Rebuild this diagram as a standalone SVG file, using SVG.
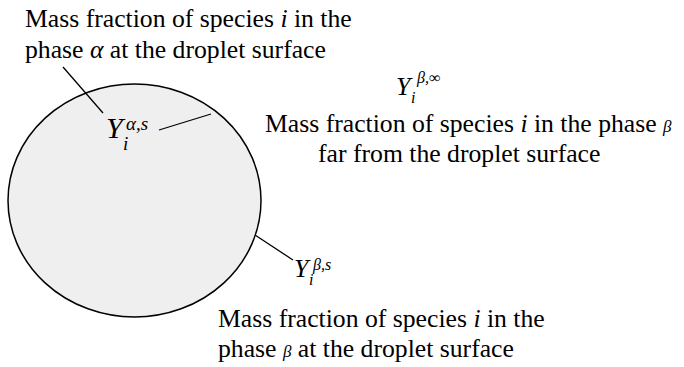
<svg xmlns="http://www.w3.org/2000/svg" width="684" height="367" viewBox="0 0 684 367">
<style>
.t{font-family:"Liberation Serif","Times New Roman",serif;font-size:25.7px;fill:#000}
.m{font-family:"Liberation Serif","Times New Roman",serif;font-style:italic;fill:#000}
.ln{stroke:#000;stroke-width:1.3;fill:none}
</style>
<rect width="684" height="367" fill="#fff"/>
<g id="droplet">
<ellipse cx="134.5" cy="200.5" rx="126.5" ry="116.5" fill="#efefef" stroke="#000" stroke-width="1.5"/>
</g>
<g id="connectors">
<line class="ln" x1="63" y1="67" x2="103" y2="113"/>
<line class="ln" x1="159" y1="130" x2="211" y2="114"/>
<line class="ln" x1="255" y1="235" x2="293" y2="260"/>
</g>
<g id="label-alpha-s">
<text class="t" x="25" y="27">Mass fraction of species <tspan font-style="italic">i</tspan> in the</text>
<text class="t" x="25" y="58">phase <tspan font-style="italic">α</tspan> at the droplet surface</text>
<text class="m" x="106" y="138" font-size="30">Y</text>
<text class="m" x="123" y="150" font-size="19">i</text>
<text class="m" x="126" y="130" font-size="19">α,s</text>
</g>
<g id="label-beta-inf">
<text class="m" x="396" y="95" font-size="26">Y</text>
<text class="m" x="411" y="103" font-size="16">i</text>
<text class="m" x="417" y="83" font-size="16">β,∞</text>
<text class="t" x="265" y="132">Mass fraction of species <tspan font-style="italic">i</tspan> in the phase <tspan font-style="italic" font-size="17">β</tspan></text>
<text class="t" x="318" y="162">far from the droplet surface</text>
</g>
<g id="label-beta-s">
<text class="m" x="294" y="277" font-size="26">Y</text>
<text class="m" x="309" y="285" font-size="16">i</text>
<text class="m" x="313" y="270" font-size="16">β,s</text>
<text class="t" x="218" y="327">Mass fraction of species <tspan font-style="italic">i</tspan> in the</text>
<text class="t" x="218" y="357">phase <tspan font-style="italic" font-size="17">β</tspan> at the droplet surface</text>
</g>
</svg>
